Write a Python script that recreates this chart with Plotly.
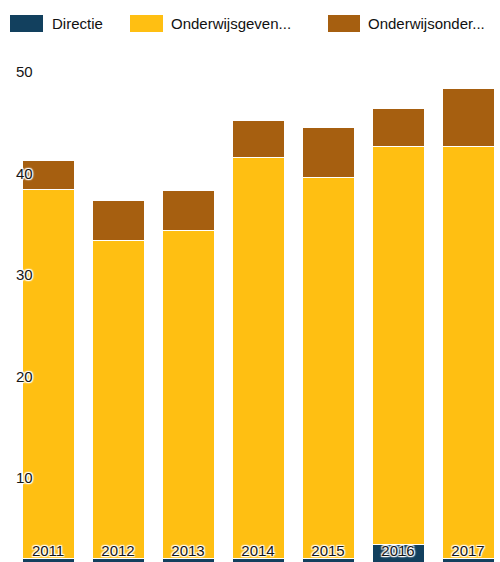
import plotly.graph_objects as go

# Staff (FTE) per year, stacked by function category
years = ["2011", "2012", "2013", "2014", "2015", "2016", "2017"]
directie = [2.1, 2.1, 2.1, 2.1, 2.1, 3.4, 2.1]
onderwijsgevend = [36.3, 31.3, 32.3, 39.5, 37.5, 39.3, 40.6]
onderwijsondersteunend = [2.9, 3.9, 3.9, 3.6, 4.9, 3.7, 5.7]

series_names = ["Directie", "Onderwijsgeven...", "Onderwijsonder..."]
series_values = [directie, onderwijsgevend, onderwijsondersteunend]
colors = ["#12405e", "#ffbf12", "#a65f10"]

y_ticks = [10, 20, 30, 40, 50]

W, H = 500, 562
ML, MR, MT, MB = 13, 0, 60, 0

halo = ("1px 1px 1px #fff, -1px -1px 1px #fff, 1px -1px 1px #fff, "
        "-1px 1px 1px #fff, 0 0 3px #fff")
label_font = dict(family="Liberation Sans, Arial, sans-serif", size=15,
                  color="#151515", shadow=halo)

fig = go.Figure()
for name, vals, col in zip(series_names, series_values, colors):
    fig.add_trace(go.Bar(
        x=years, y=vals, name=name,
        marker=dict(color=col, line=dict(color="#ffffff", width=1)),
        showlegend=False,
    ))

# Legend row drawn as swatches + labels across the top
def px_x(p):
    return (p - ML) / (W - ML - MR)

def px_y(p):
    return (H - MB - p) / (H - MT - MB)

legend_items = [(10, 43, 50), (130, 163, 169), (328, 360, 366)]
for (x0, x1, tx), name, col in zip(legend_items, series_names, colors):
    fig.add_shape(type="rect", xref="paper", yref="paper",
                  x0=px_x(x0), x1=px_x(x1), y0=px_y(32), y1=px_y(15),
                  fillcolor=col, line=dict(width=0))
    fig.add_annotation(xref="paper", yref="paper", x=px_x(tx), y=px_y(23.5),
                       text=name, showarrow=False, xanchor="left",
                       yanchor="middle",
                       font=dict(family="Liberation Sans, Arial, sans-serif",
                                 size=15, color="#111"))

fig.update_layout(
    width=W, height=H,
    margin=dict(l=ML, r=MR, t=MT, b=MB),
    barmode="stack", bargap=0.257,
    paper_bgcolor="#ffffff", plot_bgcolor="#ffffff",
    showlegend=False,
)
fig.update_xaxes(
    type="category", categoryorder="array", categoryarray=years,
    range=[-0.5, 6.457], showline=False, showgrid=False, zeroline=False,
    ticks="", ticklabelposition="inside", tickfont=label_font,
)
fig.update_yaxes(
    range=[1.72, 51.18], tickvals=y_ticks, showline=False, showgrid=False,
    zeroline=False, ticks="", ticklabelposition="inside", tickfont=label_font,
)

fig.write_html("out.html")
